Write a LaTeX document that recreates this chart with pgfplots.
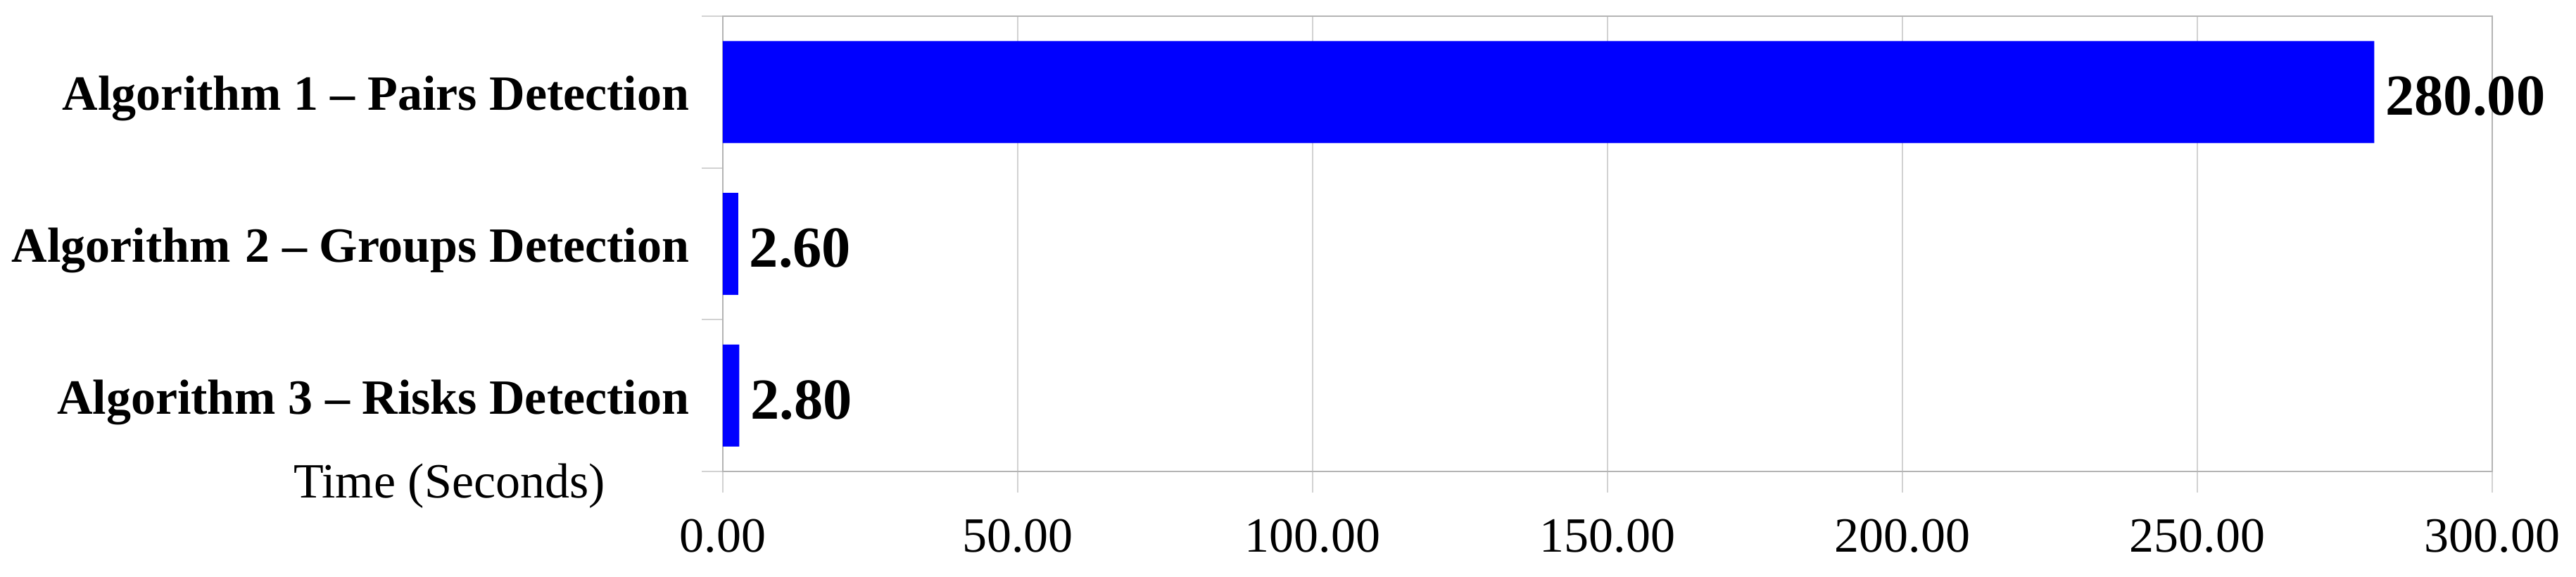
\documentclass[border=0pt]{standalone}
\usepackage{fontspec}
\setmainfont{Liberation Serif}
\usepackage{pgfplots}
\pgfplotsset{compat=1.18}
\definecolor{barblue}{RGB}{0,0,255}
\definecolor{gridgray}{RGB}{210,210,210}
\definecolor{framegray}{RGB}{180,180,180}

\begin{document}
\begin{tikzpicture}
% page size fixed to the reference proportions (3660 x 819 px)
\path[use as bounding box] (-205.4pt,-29.8pt) rectangle (526.6pt,134pt);
\begin{axis}[
    at={(0pt,0pt)}, anchor=south west,
    scale only axis,
    width=502.8pt, height=129.4pt,
    xbar, bar width=29pt, bar shift=0pt,
    xmin=0, xmax=300,
    ymin=-0.5, ymax=2.5, y dir=reverse,
    xtick={0,50,...,300},
    ytick={0,1,2},
    yticklabels={Algorithm 1 – Pairs Detection, Algorithm\hspace{0.3em}2 – Groups Detection, Algorithm 3 – Risks Detection},
    minor ytick={-0.5,0.5,1.5,2.5},
    major y tick style={draw=none},
    xtick pos=bottom, ytick pos=left,
    tick align=outside,
    major tick length=6pt, minor tick length=6pt,
    tick style={gridgray, thin},
    xmajorgrids,
    grid style={gridgray, thin},
    axis line style={framegray, thin},
    clip=false,
    /pgf/number format/assume math mode=true,
    xticklabel={\pgfmathprintnumber[fixed,zerofill,precision=2]{\tick}},
    xticklabel style={font=\fontsize{14}{16}\selectfont, yshift=-4pt},
    yticklabel style={font=\bfseries\fontsize{14}{16}\selectfont, yshift=-1.9pt},
    nodes near coords={\pgfmathprintnumber[fixed,zerofill,precision=2]{\pgfplotspointmeta}},
    nodes near coords style={font=\bfseries\fontsize{16.5}{19}\selectfont, anchor=west, inner sep=3pt, yshift=-1.2pt, black},
]
\addplot[fill=barblue, draw=none] coordinates {
    (280,0)
    (2.6,1)
    (2.8,2)
};
\node[font=\fontsize{14}{16}\selectfont] at (rel axis cs:0,0) [xshift=-77.7pt, yshift=-4.2pt] {Time (Seconds)};
\end{axis}
\end{tikzpicture}
\end{document}
